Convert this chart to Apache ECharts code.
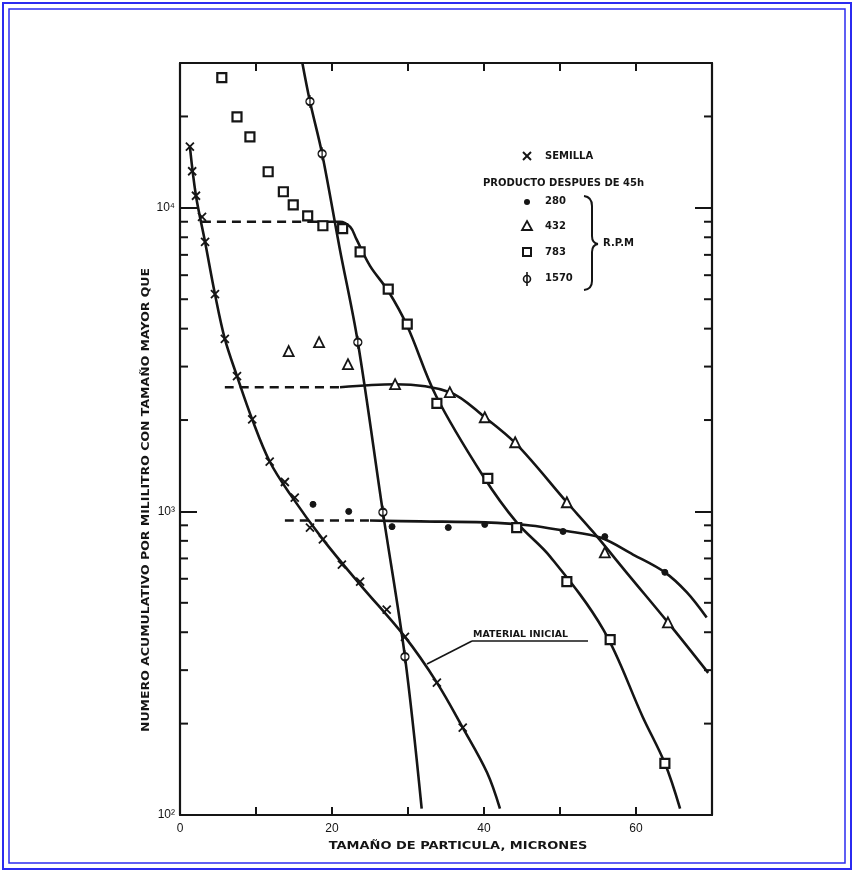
<!DOCTYPE html>
<html><head><meta charset="utf-8">
<script src="https://cdn.jsdelivr.net/npm/echarts@6/dist/echarts.min.js"></script>
<style>html,body{margin:0;padding:0;background:#fff}#c{width:855px;height:873px}</style>
</head><body><div id="c"></div>
<script>
// ---- tick labels ----
const xTicks = [0, 10, 20, 30, 40, 50, 60, 70];
const yMinorTicks = [200,300,400,500,600,700,800,900,2000,3000,4000,5000,6000,7000,8000,9000,20000];
const yLabels = {2: '10²', 3: '10³', 4: '10⁴'};

// ---- SEMILLA (material inicial) ----
const semillaX = [1.3,1.6,2.1,2.9,3.3,4.6,5.9,7.5,9.5,11.8,13.8,15.1,17.1,18.8,21.3,23.7,27.2,29.6,33.8,37.2];
const semillaY = [15900,13200,10960,9330,7720,5200,3700,2790,2010,1460,1250,1110,885,809,668,587,475,386,273,194];
const semillaCurveX = [1.3,2.1,3.3,4.6,5.9,7.5,9.5,11.8,14.5,18.8,23.7,29.6,33.8,37.2,40.4,42.1];
const semillaCurveY = [15900,10960,7720,5200,3700,2790,2010,1460,1138,809,574,386,273,194,138,105];

// ---- 1570 RPM ----
const r1570X = [17.1,18.7,23.4,26.7,29.6];
const r1570Y = [22400,15070,3610,993,332];
const r1570CurveX = [16.1,17.1,18.7,21.0,23.4,26.7,29.6,31.8];
const r1570CurveY = [30000,22400,15070,7380,3610,993,332,105];

// ---- 783 RPM ----
const r783X = [5.5,7.5,9.2,11.6,13.6,14.9,16.8,18.8,21.4,23.7,27.4,29.9,33.8,40.5,44.3,50.9,56.6,63.8];
const r783Y = [26850,19950,17140,13150,11300,10230,9410,8730,8540,7160,5400,4140,2270,1284,885,587,378,148];
const r783DashX = [2.9,17.1];
const r783DashY = [9000,9000];
const r783CurveX = [17.1,21.05,22.4,23.2,25.0,27.4,29.9,33.7,39.9,44.3,48.7,55.7,60.9,63.8,65.8];
const r783CurveY = [9000,9000,8650,7900,6440,5320,4080,2400,1306,920,710,408,210,148,105];

// ---- 432 RPM ----
const r432X = [14.3,18.3,22.1,28.3,35.5,40.1,44.1,50.9,55.9,64.2];
const r432Y = [3375,3610,3055,2625,2470,2043,1690,1072,733,431];
const r432DashX = [5.9,21.05];
const r432DashY = [2565,2565];
const r432CurveX = [21.05,28.3,35.5,40.1,44.3,50.9,54.3,59.2,64.2,69.5];
const r432CurveY = [2565,2625,2470,2043,1663,1072,859,610,431,294];

// ---- 280 RPM ----
const r280X = [17.5,22.2,27.9,35.3,40.1,50.4,55.9,63.8];
const r280Y = [1055,1000,891,885,906,859,826,630];
const r280DashX = [13.8,25.0];
const r280DashY = [933,933];
const r280CurveX = [25.0,31.6,40.1,46.1,50.4,55.3,59.6,63.8,66.7,69.3];
const r280CurveY = [933,927,920,899,865,820,721,630,541,447];

const zip = (a, b) => a.map((v, i) => [v, b[i]]);
const INK = '#151515';
const FONT = 'bold 10px "DejaVu Sans"';

function curve(xs, ys, dashed) {
  return {type: 'line', data: zip(xs, ys), smooth: 0.35, symbol: 'none', silent: true,
    lineStyle: {color: INK, width: 2.6, type: dashed ? [9, 6] : 'solid'}, z: 3};
}
function marks(xs, ys, symbol, size, fill, bw) {
  return {type: 'scatter', data: zip(xs, ys), symbol: symbol, symbolSize: size, silent: true,
    itemStyle: {color: fill, borderColor: INK, borderWidth: bw, opacity: 1}, z: 4};
}
const X_SYM = 'path://M0,0 L10,10 M10,0 L0,10';
const PHI_SYM = 'path://M5,0 L5,14 M1,7 A4,4 0 1 1 9,7 A4,4 0 1 1 1,7 Z';

const chart = echarts.init(document.getElementById('c'));
const axisLine = {show: true, onZero: false, lineStyle: {color: INK, width: 2.2}};
const BR = {stroke: INK, lineWidth: 2, fill: 'none'};

const option = {
  backgroundColor: '#fff',
  animation: false,
  grid: {left: 180, right: 143, top: 63, bottom: 58},
  xAxis: [
    {type: 'value', min: xTicks[0], max: xTicks[xTicks.length - 1], interval: 10, position: 'bottom',
     axisLine: axisLine, splitLine: {show: false},
     axisTick: {inside: true, length: 8, lineStyle: {color: INK, width: 2}},
     axisLabel: {formatter: v => (v % 20 === 0 ? String(v) : ''), color: INK, font: FONT, margin: 8}},
    {type: 'value', min: xTicks[0], max: xTicks[xTicks.length - 1], interval: 10, position: 'top',
     axisLine: axisLine, splitLine: {show: false},
     axisTick: {inside: true, length: 8, lineStyle: {color: INK, width: 2}},
     axisLabel: {show: false}}
  ],
  yAxis: [
    {type: 'log', logBase: 10, min: 100, max: 30000, position: 'left',
     axisLine: axisLine, splitLine: {show: false},
     axisTick: {inside: true, length: 17, lineStyle: {color: INK, width: 2}},
     axisLabel: {color: INK, font: 'bold 9px "DejaVu Sans"', margin: 5,
       formatter: v => { const e = Math.log10(v); const r = Math.round(e); return Math.abs(e - r) < 1e-6 && yLabels[r] ? yLabels[r] : ''; }}},
    {type: 'log', logBase: 10, min: 100, max: 30000, position: 'right',
     axisLine: axisLine, splitLine: {show: false},
     axisTick: {inside: true, length: 17, lineStyle: {color: INK, width: 2}},
     axisLabel: {show: false}}
  ],
  series: [
    curve(semillaCurveX, semillaCurveY, false),
    marks(semillaX, semillaY, X_SYM, 8, INK, 1.8),
    curve(r1570CurveX, r1570CurveY, false),
    marks(r1570X, r1570Y, PHI_SYM, [8, 13], '#fff', 1.6),
    curve(r783DashX, r783DashY, true),
    curve(r783CurveX, r783CurveY, false),
    marks(r783X, r783Y, 'rect', 9, '#fff', 2.2),
    curve(r432DashX, r432DashY, true),
    curve(r432CurveX, r432CurveY, false),
    marks(r432X, r432Y, 'triangle', 10, '#fff', 1.8),
    curve(r280DashX, r280DashY, true),
    curve(r280CurveX, r280CurveY, false),
    marks(r280X, r280Y, 'circle', 6, INK, 1),
    {type: 'custom', silent: true, data: yMinorTicks.map(v => [0, v]), encode: {x: 0, y: 1}, z: 5,
     renderItem: (params, api) => {
       const v = api.value(1);
       const l = api.coord([0, v]);
       const r = api.coord([70, v]);
       const st = {stroke: INK, lineWidth: 2};
       return {type: 'group', children: [
         {type: 'line', shape: {x1: l[0], y1: l[1], x2: l[0] + 8, y2: l[1]}, style: st},
         {type: 'line', shape: {x1: r[0], y1: r[1], x2: r[0] - 8, y2: r[1]}, style: st}
       ]};
     }}
  ],
  graphic: [
    // blue page frame
    {type: 'rect', shape: {x: 3, y: 3, width: 848, height: 866}, style: {fill: 'none', stroke: '#2b2bf0', lineWidth: 2}},
    {type: 'rect', shape: {x: 9, y: 9, width: 836, height: 854}, style: {fill: 'none', stroke: '#2b2bf0', lineWidth: 1.5}},
    // axis titles
    {type: 'text', x: 146, y: 500, rotation: Math.PI / 2, scaleX: 1.25,
     style: {text: 'NUMERO ACUMULATIVO POR MILILITRO CON TAMAÑO MAYOR QUE', font: FONT, fill: INK, textAlign: 'center', textVerticalAlign: 'middle'}},
    {type: 'text', x: 458, y: 846, scaleX: 1.3,
     style: {text: 'TAMAÑO DE PARTICULA, MICRONES', font: FONT, fill: INK, textAlign: 'center', textVerticalAlign: 'middle'}},
    // legend
    {type: 'line', shape: {x1: 523, y1: 152, x2: 531, y2: 160}, style: {stroke: INK, lineWidth: 2}},
    {type: 'line', shape: {x1: 531, y1: 152, x2: 523, y2: 160}, style: {stroke: INK, lineWidth: 2}},
    {type: 'text', x: 545, y: 156, style: {text: 'SEMILLA', font: FONT, fill: INK, textVerticalAlign: 'middle'}},
    {type: 'text', x: 483, y: 183, style: {text: 'PRODUCTO DESPUES DE 45h', font: FONT, fill: INK, textVerticalAlign: 'middle'}},
    {type: 'circle', shape: {cx: 527, cy: 202, r: 3}, style: {fill: INK}},
    {type: 'text', x: 545, y: 201, style: {text: '280', font: FONT, fill: INK, textVerticalAlign: 'middle'}},
    {type: 'polygon', shape: {points: [[527, 221], [532, 230], [522, 230]]}, style: {fill: '#fff', stroke: INK, lineWidth: 1.8}},
    {type: 'text', x: 545, y: 226, style: {text: '432', font: FONT, fill: INK, textVerticalAlign: 'middle'}},
    {type: 'rect', shape: {x: 523, y: 248, width: 8, height: 8}, style: {fill: '#fff', stroke: INK, lineWidth: 2}},
    {type: 'text', x: 545, y: 252, style: {text: '783', font: FONT, fill: INK, textVerticalAlign: 'middle'}},
    {type: 'circle', shape: {cx: 527, cy: 279, r: 3.5}, style: {fill: '#fff', stroke: INK, lineWidth: 1.6}},
    {type: 'line', shape: {x1: 527, y1: 272, x2: 527, y2: 286}, style: {stroke: INK, lineWidth: 1.6}},
    {type: 'text', x: 545, y: 278, style: {text: '1570', font: FONT, fill: INK, textVerticalAlign: 'middle'}},
    // brace
    {type: 'bezierCurve', shape: {x1: 584, y1: 196, cpx1: 592, cpy1: 197, x2: 592, y2: 206}, style: BR},
    {type: 'line', shape: {x1: 592, y1: 206, x2: 592, y2: 236}, style: BR},
    {type: 'bezierCurve', shape: {x1: 592, y1: 236, cpx1: 592, cpy1: 243, x2: 598, y2: 244}, style: BR},
    {type: 'bezierCurve', shape: {x1: 598, y1: 244, cpx1: 592, cpy1: 245, x2: 592, y2: 252}, style: BR},
    {type: 'line', shape: {x1: 592, y1: 252, x2: 592, y2: 281}, style: BR},
    {type: 'bezierCurve', shape: {x1: 592, y1: 281, cpx1: 592, cpy1: 289, x2: 584, y2: 290}, style: BR},
    {type: 'text', x: 603, y: 243, style: {text: 'R.P.M', font: FONT, fill: INK, textVerticalAlign: 'middle'}},
    // annotation
    {type: 'text', x: 473, y: 635, scaleX: 1.05, style: {text: 'MATERIAL INICIAL', font: 'bold 9px "DejaVu Sans"', fill: INK, textVerticalAlign: 'middle'}},
    {type: 'line', shape: {x1: 472, y1: 641, x2: 588, y2: 641}, style: {stroke: INK, lineWidth: 1.6}},
    {type: 'line', shape: {x1: 472, y1: 641, x2: 427, y2: 664}, style: {stroke: INK, lineWidth: 1.6}}
  ]
};
chart.setOption(option);
</script></body></html>
